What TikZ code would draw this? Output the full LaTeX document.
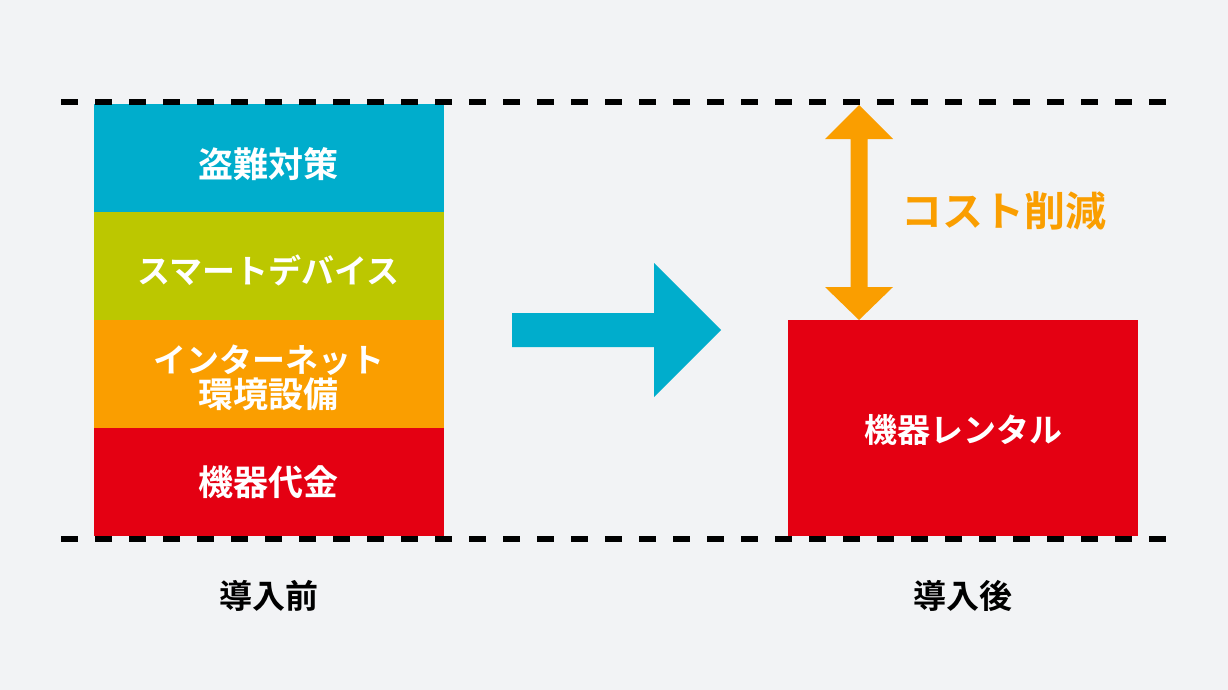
\documentclass[tikz,border=0pt]{standalone}
\usepackage{fontspec}
\newfontfamily\jp{Noto Sans CJK JP}[BoldFont={* Bold}]
\definecolor{bg}{HTML}{F2F3F5}
\definecolor{cblue}{HTML}{00ADCC}
\definecolor{cgreen}{HTML}{BCC700}
\definecolor{corange}{HTML}{FA9E00}
\definecolor{cred}{HTML}{E40012}
\tikzset{
  box/.style={rectangle, inner sep=0pt, minimum width=350pt, minimum height=108pt, anchor=north west},
  lbl/.style={inner sep=0pt, align=center, font=\jp\bfseries\fontsize{33}{35}\selectfont},
  big/.style={font=\jp\bfseries\fontsize{35}{35}\selectfont},
  dashline/.style={line width=6pt, dash pattern=on 17pt off 17pt, black},
}
\begin{document}
\begin{tikzpicture}[x=1pt,y=-1pt]
\fill[bg] (0,0) rectangle (1228,690);
\useasboundingbox (0,0) rectangle (1228,690);
% left stack
\node[box, fill=cblue] (b1) at (94,104) {};
\node[box, fill=cgreen] (b2) at (94,212) {};
\node[box, fill=corange] (b3) at (94,320) {};
\node[box, fill=cred] (b4) at (94,428) {};
\node[lbl, big, text=white] (t1) at (268.5,164) {盗難対策};
\node[lbl, text=white] (t2) at (268.5,270) {スマートデバイス};
\node[lbl, text=white] (t3) at (268.5,377.5) {インターネット\\{\fontsize{35}{35}\selectfont 環境設備}};
\node[lbl, big, text=white] (t4) at (268.5,482) {機器代金};
% right box
\node[box, fill=cred, minimum height=216pt] (r) at (788,320) {};
\node[lbl, text=white] (tr) at (963,430) {機器レンタル};
% labels
\node[lbl] (before) at (269,596) {導入前};
\node[lbl] (after) at (963,596) {導入後};
% dashed lines
\coordinate (tl) at (61,102.5);
\coordinate (tr2) at (1167,102.5);
\coordinate (bl) at (61,538.5);
\coordinate (br) at (1167,538.5);
\draw[dashline] (tl) -- (tr2);
\draw[dashline] (bl) -- (br);
% blue arrow
\fill[cblue] (512,313) -- (654,313) -- (654,263) -- (721,330) -- (654,397) -- (654,347) -- (512,347) -- cycle;
% orange double arrow
\coordinate (up) at (859,105);
\coordinate (dn) at (r.north -| up);
\fill[corange] (up) -- ++(34,34) -- ++(-25.5,0) -- (867.5,287) -- (893,287) -- (dn) -- (825,287) -- (850.5,287) -- (850.5,139) -- (825,139) -- cycle;
\node[inner sep=0pt, text=corange, font=\jp\bfseries\fontsize{41}{45}\selectfont, anchor=west] (cut) at (901,211) {コスト削減};
\end{tikzpicture}
\end{document}
